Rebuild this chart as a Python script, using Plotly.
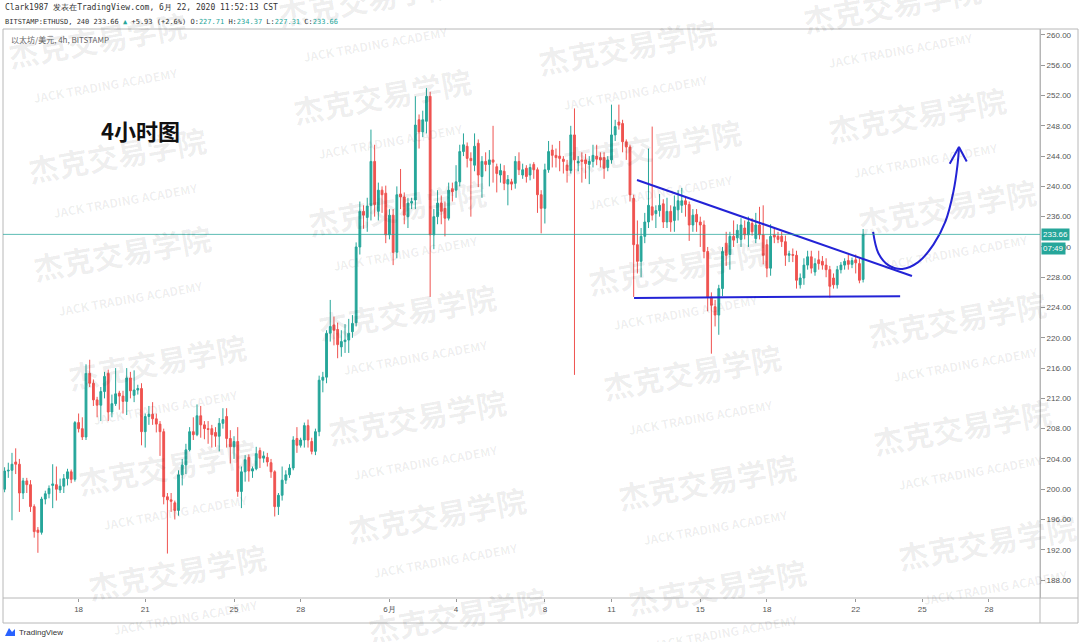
import pandas as pd
import plotly.graph_objects as go

# ---------------- data (ETHUSD 4h, Bitstamp) ----------------
start = pd.Timestamp("2020-05-14 16:00")

opens = [
    200.0, 202.4, 202.5, 203.6, 203.3, 199.5, 201.1, 200.6, 197.7, 194.6,
    194.3, 198.7, 199.4, 200.5, 200.6, 199.9, 200.4, 201.4, 202.3, 201.3,
    208.8, 208.0, 206.9, 215.3, 214.0, 211.8, 211.1, 212.9, 215.3,
    210.2, 211.3, 212.7, 212.3, 211.6, 214.7, 212.4, 213.1, 213.3, 207.6,
    209.6, 209.9, 209.3, 208.6, 207.6, 199.0, 198.6, 198.2, 197.2, 201.9,
    203.2, 205.2, 207.6, 207.2, 209.7, 208.5, 208.0, 208.0,
    207.5, 207.0, 208.7, 209.6, 206.7, 205.6, 206.3, 199.7, 202.3, 204.2,
    202.4, 202.7, 205.1, 204.1, 204.2, 203.5, 202.3, 197.7, 199.2, 201.2,
    201.9, 202.8, 206.7, 205.8, 206.5, 208.4, 206.3, 205.0, 207.6, 214.4,
    214.8, 220.6, 221.7, 221.1, 218.8, 219.5, 219.7, 220.8, 222.0, 232.0,
    236.7, 235.9, 237.5, 243.3, 236.7, 239.5, 239.1, 233.6, 236.2, 231.3,
    239.0, 238.6, 236.0, 237.8, 238.2, 248.8,
    247.2, 248.6, 251.9, 233.6, 236.0, 237.8, 237.1, 235.8, 239.7, 239.5,
    240.6, 244.6, 245.3, 243.7, 242.8, 245.7, 241.3, 243.3, 242.9, 243.5,
    242.6, 241.5, 242.0, 240.3, 240.6, 240.4, 243.3, 241.5, 242.4, 241.5,
    242.9, 242.2, 238.9, 237.1, 242.2, 244.8, 244.1, 244.0, 243.6, 242.8,
    242.1, 246.8, 243.1, 243.5, 243.5, 242.9, 243.3, 244.0, 243.8, 243.8,
    242.5, 243.5, 246.8, 248.5, 248.3, 245.9, 245.2, 238.4,
    232.3, 230.1, 233.4, 235.3, 237.3, 236.4, 236.8, 237.7, 235.3, 236.7,
    235.5, 236.9, 237.5, 238.1, 237.6, 234.9, 236.3, 235.3, 234.9, 231.4,
    225.4, 224.1, 223.0, 226.5, 232.5, 231.0, 233.4, 233.2,
    233.0, 234.5, 233.6, 235.1, 233.1, 234.9, 233.6, 232.3, 229.2, 233.6,
    233.4, 233.4, 232.7, 230.9, 231.0, 230.9, 227.0, 227.9, 229.6, 230.7,
    228.7, 230.3, 230.1, 229.6, 229.0, 227.9, 227.0, 229.0, 229.6, 230.2,
    229.7, 230.3, 229.8, 227.71,
]

highs = [
    202.9, 203.5, 204.8, 205.4, 204.0, 201.5, 201.5, 201.2, 198.0, 195.0,
    199.0, 199.8, 200.5, 203.3, 203.0, 201.4, 202.0, 202.7, 202.6, 209.0,
    210.0, 209.5, 216.5, 217.1, 214.5, 212.2, 213.5, 215.5, 215.8,
    212.5, 216.0, 213.0, 213.0, 216.0, 215.5, 215.7, 213.8, 214.0, 210.0,
    211.0, 211.5, 210.0, 209.0, 208.0, 199.5, 199.5, 198.5, 202.5, 204.0,
    206.0, 208.2, 209.5, 211.2, 211.0, 209.0, 209.0, 208.5,
    208.2, 209.4, 210.7, 210.7, 207.8, 207.0, 208.2, 203.0, 204.5, 204.6,
    203.0, 205.6, 205.5, 205.0, 204.8, 204.0, 202.5, 199.5, 203.0, 202.5,
    203.3, 207.0, 208.2, 206.8, 208.8, 209.2, 206.8, 208.0, 215.0, 215.5,
    221.0, 225.0, 222.8, 222.0, 221.0, 221.8, 222.5, 223.0, 232.6, 238.0,
    237.5, 238.5, 247.5, 245.5, 240.5, 240.0, 240.1, 237.0, 237.0, 240.0,
    242.3, 239.2, 238.5, 238.5, 251.9, 249.5,
    250.0, 253.0, 252.5, 237.0, 239.5, 238.8, 238.0, 240.5, 240.5, 242.8,
    245.5, 247.0, 245.8, 244.5, 247.0, 246.2, 244.0, 244.5, 244.8, 248.0,
    243.0, 243.0, 242.8, 241.5, 241.0, 244.0, 244.5, 243.0, 242.8, 243.0,
    243.2, 242.5, 239.5, 243.0, 246.0, 245.5, 245.0, 246.0, 244.0, 243.5,
    248.0, 250.3, 244.0, 244.5, 244.3, 244.0, 245.5, 245.5, 244.5, 244.5,
    244.0, 250.8, 248.8, 250.8, 248.8, 246.2, 245.5, 238.9,
    235.5, 234.5, 236.5, 245.0, 247.9, 237.5, 239.0, 238.3, 238.5, 237.5,
    238.8, 239.5, 239.8, 238.6, 238.0, 237.0, 237.0, 236.0, 235.5, 232.0,
    226.0, 225.0, 227.0, 232.0, 234.0, 234.0, 235.5, 235.0,
    235.8, 235.5, 236.0, 235.8, 236.5, 237.3, 237.5, 233.0, 235.0, 234.5,
    234.0, 234.0, 233.5, 231.5, 231.8, 231.5, 228.5, 230.5, 231.5, 231.5,
    230.5, 231.5, 230.8, 230.5, 229.5, 228.5, 229.5, 230.0, 230.5, 231.0,
    230.6, 231.0, 230.5, 234.37,
]

lows = [
    199.6, 201.5, 195.9, 202.0, 197.0, 198.7, 199.5, 197.0, 193.6, 191.6,
    194.0, 198.0, 198.8, 197.5, 198.5, 199.5, 199.5, 200.5, 200.8, 201.0,
    207.5, 206.5, 206.5, 213.5, 211.0, 209.5, 209.0, 212.0, 209.0,
    209.5, 211.0, 210.5, 210.0, 209.8, 212.0, 211.5, 212.5, 205.8, 205.5,
    208.5, 208.5, 207.5, 204.4, 198.0, 191.5, 197.0, 196.0, 196.5, 200.5,
    202.0, 205.0, 206.5, 207.0, 206.8, 206.6, 206.0, 205.5,
    205.6, 205.0, 208.0, 205.5, 203.4, 204.0, 199.0, 197.5, 201.0, 201.0,
    201.5, 202.5, 202.8, 203.5, 203.0, 201.5, 196.4, 196.6, 198.5, 200.7,
    201.5, 202.5, 204.8, 205.5, 205.5, 205.5, 204.6, 204.5, 207.0, 212.8,
    214.0, 219.5, 219.0, 217.3, 217.5, 218.0, 218.0, 220.0, 221.5, 231.0,
    234.4, 234.0, 235.5, 236.0, 235.5, 236.5, 232.5, 233.0, 229.6, 230.5,
    237.0, 235.0, 234.5, 237.0, 237.0, 245.0,
    246.5, 247.0, 225.4, 231.7, 235.0, 235.0, 233.4, 235.5, 238.0, 238.5,
    240.0, 244.0, 242.5, 236.0, 242.0, 239.9, 238.5, 242.0, 240.0, 240.5,
    239.2, 240.5, 239.5, 237.5, 239.5, 239.7, 241.5, 241.0, 240.5, 240.8,
    241.0, 236.5, 233.8, 235.1, 241.8, 242.5, 242.5, 242.0, 241.7, 240.5,
    241.7, 215.1, 242.0, 240.5, 241.0, 240.3, 242.5, 242.8, 242.5, 241.0,
    242.0, 243.0, 246.0, 247.5, 244.5, 243.5, 238.0, 225.4,
    228.5, 228.0, 232.5, 234.5, 235.5, 234.5, 236.0, 234.5, 234.5, 234.0,
    234.0, 235.5, 236.5, 236.0, 232.8, 234.0, 234.0, 232.0, 230.5, 223.5,
    217.9, 221.5, 220.4, 225.5, 229.5, 229.0, 232.0, 232.5,
    232.0, 233.0, 232.0, 233.5, 232.5, 233.0, 229.7, 228.0, 228.2, 232.5,
    232.5, 232.0, 229.5, 230.0, 230.0, 226.5, 226.5, 227.0, 229.0, 228.5,
    228.2, 229.0, 229.0, 228.0, 225.3, 226.5, 226.5, 228.5, 229.0, 229.0,
    229.2, 228.5, 227.2, 227.31,
]

closes = [
    202.4, 202.5, 203.3, 203.3, 199.5, 201.1, 200.6, 197.7, 194.4, 194.3,
    198.7, 199.4, 200.1, 200.7, 200.0, 200.4, 201.4, 202.3, 201.3, 208.8,
    208.0, 206.9, 215.3, 214.0, 211.8, 211.1, 212.9, 214.9, 210.2,
    211.3, 212.6, 212.3, 211.6, 214.7, 213.0, 213.1, 213.3, 207.6, 209.6,
    209.9, 209.3, 208.6, 207.6, 199.0, 198.6, 198.4, 197.2, 201.9, 203.2,
    205.2, 207.6, 207.2, 209.7, 208.5, 208.0, 207.9, 207.2,
    207.0, 208.7, 209.2, 206.7, 205.6, 206.3, 199.7, 202.3, 203.9, 202.4,
    202.7, 204.7, 204.1, 204.4, 203.6, 202.3, 197.7, 199.2, 201.2, 201.9,
    202.8, 206.5, 205.8, 206.5, 208.4, 206.5, 205.0, 207.6, 214.4, 214.8,
    220.6, 221.5, 221.0, 219.1, 219.5, 219.7, 220.6, 221.9, 232.0, 236.7,
    236.2, 237.4, 243.3, 237.6, 239.5, 238.9, 233.6, 236.2, 231.3, 238.9,
    238.6, 236.2, 237.8, 238.0, 248.1, 247.2,
    248.8, 251.9, 233.6, 236.0, 237.8, 236.7, 235.8, 239.5, 239.3, 240.6,
    244.6, 245.5, 243.7, 243.4, 245.3, 241.5, 243.3, 242.9, 243.5, 243.2,
    241.7, 242.1, 240.4, 240.9, 240.3, 243.3, 242.2, 242.2, 241.3, 242.5,
    242.2, 238.9, 237.1, 242.2, 244.6, 244.1, 243.8, 243.7, 243.3, 242.1,
    246.8, 243.5, 243.3, 243.3, 243.0, 243.3, 244.1, 243.6, 243.5, 242.4,
    243.5, 246.8, 247.9, 248.1, 245.9, 245.2, 238.9, 232.3,
    230.1, 233.4, 235.3, 237.5, 236.2, 236.8, 237.5, 235.3, 236.7, 235.3,
    237.3, 238.1, 238.1, 237.6, 234.9, 236.2, 235.3, 234.9, 231.4, 225.4,
    224.3, 223.0, 226.5, 231.4, 230.9, 233.4, 232.9, 234.2,
    234.9, 233.6, 235.3, 234.0, 234.9, 233.6, 230.9, 229.2, 233.4, 233.3,
    233.0, 232.7, 230.9, 231.1, 230.9, 227.6, 227.9, 229.6, 230.7, 229.2,
    229.8, 229.8, 229.6, 229.0, 226.8, 227.0, 229.0, 229.6, 230.1, 229.7,
    230.2, 229.9, 227.6, 233.66,
]

tick_dates = ["2020-05-18", "2020-05-21", "2020-05-25", "2020-05-28", "2020-06-01",
              "2020-06-04", "2020-06-08", "2020-06-11", "2020-06-15", "2020-06-18",
              "2020-06-22", "2020-06-25", "2020-06-28"]
tick_labels = ["18", "21", "25", "28", "6月", "4", "8", "11", "15", "18", "22", "25", "28"]
price_ticks = [188 + 4 * k for k in range(19)]
last_price = 233.66

# hand-drawn annotations (candle index, price)
upper_trend = [(170.9, 240.85), (245.2, 228.16)]
lower_trend = [(170.1, 225.26), (242.0, 225.50)]
arrow_curve = [(234.7, 233.98), (236.1, 231.2), (238.8, 229.6), (242.6, 229.1),
               (246.9, 230.0), (251.0, 232.3), (254.2, 235.3), (256.4, 239.3),
               (257.5, 242.8), (257.9, 245.1)]
arrow_head = [(255.4, 243.0), (257.9, 245.2), (260.0, 243.3)]

# ---------------- helpers ----------------
def t_of(k):
    return start + pd.Timedelta(hours=4 * k)

n = len(closes)
times = [t_of(i) for i in range(n)]
hi = [max(h, o, c) for h, o, c in zip(highs, opens, closes)]
lo = [min(l, o, c) for l, o, c in zip(lows, opens, closes)]

W, H = 1080, 642
ML, MR, MT, MB = 3, 40, 29, 44
PW, PH = W - ML - MR, H - MT - MB

def px(x):
    return (x - ML) / PW

def py(y):
    return (H - MB - y) / PH

UP, DOWN = "#26a69a", "#ef5350"
BLUE = "#2323d6"

fig = go.Figure()
fig.add_trace(go.Candlestick(
    x=times, open=opens, high=hi, low=lo, close=closes,
    increasing=dict(line=dict(color=UP, width=1), fillcolor=UP),
    decreasing=dict(line=dict(color=DOWN, width=1), fillcolor=DOWN),
    whiskerwidth=0, showlegend=False, hoverinfo="skip",
))

for pts in (upper_trend, lower_trend):
    fig.add_trace(go.Scatter(x=[t_of(k) for k, _ in pts], y=[p for _, p in pts],
                             mode="lines", line=dict(color=BLUE, width=2),
                             showlegend=False, hoverinfo="skip"))
fig.add_trace(go.Scatter(x=[t_of(k) for k, _ in arrow_curve], y=[p for _, p in arrow_curve],
                         mode="lines", line=dict(color=BLUE, width=2, shape="spline"),
                         showlegend=False, hoverinfo="skip"))
fig.add_trace(go.Scatter(x=[t_of(k) for k, _ in arrow_head], y=[p for _, p in arrow_head],
                         mode="lines", line=dict(color=BLUE, width=2),
                         showlegend=False, hoverinfo="skip"))

x_lo = t_of(-0.43)
x_hi = t_of(279.8)

fig.update_layout(
    width=W, height=H,
    margin=dict(l=ML, r=MR, t=MT, b=MB, autoexpand=False),
    paper_bgcolor="white", plot_bgcolor="white",
    showlegend=False,
    font=dict(family="Liberation Sans, Arial, sans-serif", color="#444"),
    xaxis=dict(type="date", range=[x_lo, x_hi], rangeslider=dict(visible=False),
               showgrid=False, zeroline=False, showline=False, automargin=False,
               tickvals=tick_dates, ticktext=tick_labels,
               ticks="outside", ticklen=3, tickcolor="#999",
               tickfont=dict(size=8, color="#555")),
    yaxis=dict(side="right", range=[185.63, 260.79], showgrid=False, zeroline=False,
               automargin=False,
               tickvals=price_ticks, ticktext=[f"{v:.2f}" for v in price_ticks],
               ticks="outside", ticklen=4, tickcolor="#999",
               tickfont=dict(size=8, color="#555"),
               showline=True, linecolor="#b5b5b5", linewidth=1),
)

# frame lines
frame_color = "#b8b8b8"
right_edge = px(1078)
bottom_row = py(623)
shapes = [
    dict(type="line", xref="paper", yref="paper", x0=0, x1=0, y0=0, y1=1),
    dict(type="line", xref="paper", yref="paper", x0=0, x1=right_edge, y0=1, y1=1),
    dict(type="line", xref="paper", yref="paper", x0=0, x1=right_edge, y0=0, y1=0),
    dict(type="line", xref="paper", yref="paper", x0=0, x1=right_edge, y0=bottom_row, y1=bottom_row),
    dict(type="line", xref="paper", yref="paper", x0=1, x1=1, y0=bottom_row, y1=1),
    dict(type="line", xref="paper", yref="paper", x0=right_edge, x1=right_edge, y0=bottom_row, y1=1),
    dict(type="line", xref="paper", yref="paper", x0=0, x1=0, y0=bottom_row, y1=0),
]
for s in shapes:
    s["line"] = dict(color=frame_color, width=1)
    fig.add_shape(**s)

# last price line
fig.add_shape(type="line", xref="paper", yref="y", x0=0, x1=1, y0=last_price, y1=last_price,
              line=dict(color="rgba(38,166,154,0.75)", width=1))

# watermarks (centre of the two-line block)
wm_pos = [
    (100, 55), (120, 170), (125, 268), (160, 377), (170, 482), (180, 587),
    (370, 14), (385, 112), (400, 224), (410, 327), (420, 432), (440, 530), (460, 630),
    (630, 62), (655, 162), (680, 282), (695, 387), (710, 497), (720, 602),
    (895, 20), (920, 130), (950, 222), (960, 334), (965, 442), (990, 557),
]
for (x, y) in wm_pos:
    fig.add_annotation(
        xref="paper", yref="paper", x=px(x), y=py(y), showarrow=False,
        xanchor="center", yanchor="middle",
        text="杰克交易学院<br><span style='font-size:12px'>JACK TRADING ACADEMY</span>",
        font=dict(family="Noto Sans CJK SC, sans-serif", size=30, color="rgba(0,0,0,0.07)",
                  weight="bold"),
        textangle=-10, align="center",
    )

# header texts
mono = "DejaVu Sans Mono, Liberation Mono, monospace"
fig.add_annotation(xref="paper", yref="paper", x=px(3), y=py(8), xanchor="left", yanchor="middle",
                   showarrow=False,
                   text="Clark1987 发表在TradingView.com, 6月 22, 2020 11:52:13 CST",
                   font=dict(family=mono, size=8, color="#333"))
fig.add_annotation(xref="paper", yref="paper", x=px(3), y=py(22), xanchor="left", yanchor="middle",
                   showarrow=False,
                   text=("BITSTAMP:ETHUSD, 240 233.66 <span style='color:#26a69a'>▲</span> +5.93 (+2.6%) "
                         "O:<span style='color:#26a69a'>227.71</span> H:<span style='color:#26a69a'>234.37</span> "
                         "L:<span style='color:#26a69a'>227.31</span> C:<span style='color:#26a69a'>233.66</span>"),
                   font=dict(family=mono, size=7, color="#333"))
fig.add_annotation(xref="paper", yref="paper", x=px(9), y=py(40), xanchor="left", yanchor="middle",
                   showarrow=False, text="以太坊/美元, 4h, BITSTAMP",
                   font=dict(family="Noto Sans CJK SC, sans-serif", size=8, color="#666"))

# chart title in pane
fig.add_annotation(xref="paper", yref="paper", x=px(140), y=py(130), showarrow=False,
                   xanchor="center", yanchor="middle",
                   text="<b>4小时图</b>",
                   font=dict(family="Noto Sans CJK SC, sans-serif", size=22, color="#111"))

# last price labels on axis
fig.add_annotation(xref="paper", yref="y", x=px(1041), y=last_price, xanchor="left", yanchor="middle",
                   showarrow=False, text="233.66", bgcolor=UP, borderpad=1,
                   font=dict(size=8, color="white"))
fig.add_annotation(xref="paper", yref="y", x=px(1041), y=last_price - 1.8, xanchor="left",
                   yanchor="middle", showarrow=False, text="07:49", bgcolor=UP, borderpad=1,
                   font=dict(size=8, color="white"))

# TradingView footer
fig.add_shape(type="path", xref="paper", yref="paper",
              path=f"M {px(5)} {py(636)} L {px(9)} {py(628)} L {px(12)} {py(632)} L {px(15)} {py(629)} L {px(15)} {py(636)} Z",
              fillcolor="#2962ff", line=dict(width=0))
fig.add_annotation(xref="paper", yref="paper", x=px(17), y=py(632), xanchor="left", yanchor="middle",
                   showarrow=False, text="TradingView",
                   font=dict(size=8, color="#333"))

fig.write_html("out.html", config={"displayModeBar": False},
               post_script="document.body.style.margin='0px';document.body.style.overflow='hidden';")
